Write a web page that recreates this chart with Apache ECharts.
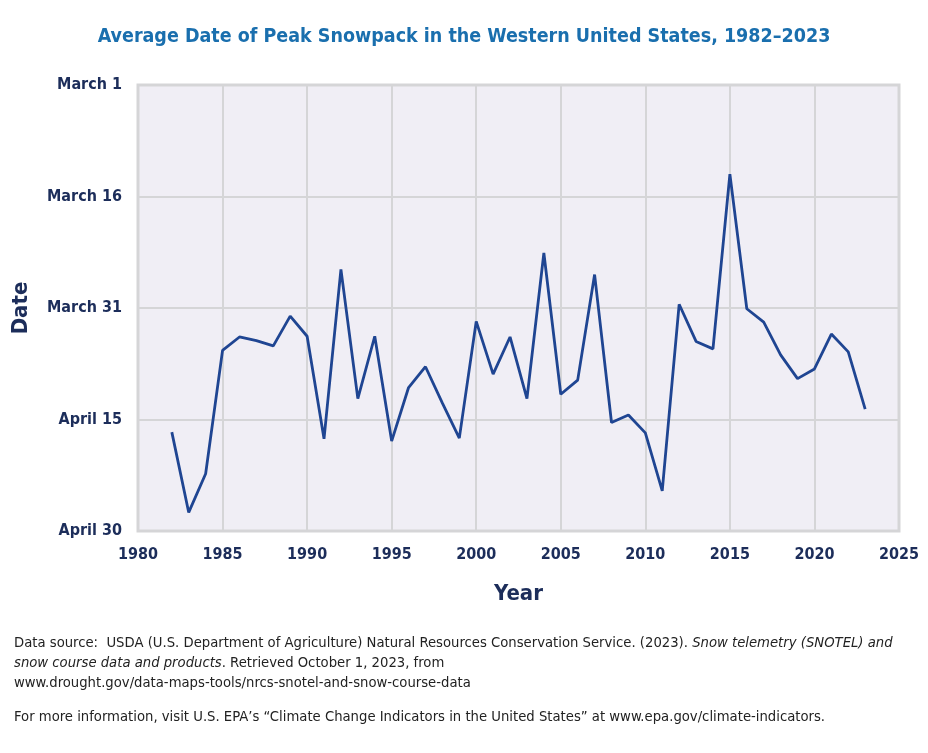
<!DOCTYPE html>
<html>
<head>
<meta charset="utf-8">
<script src="https://cdn.jsdelivr.net/npm/echarts@6/dist/echarts.min.js"></script>
<style>
  html, body { margin: 0; padding: 0; background: #fff; }
  #chart { width: 928px; height: 753px; }
</style>
</head>
<body>
<div id="chart"></div>
<script>
// years and peak date, as days after March 1
const years = [1982, 1983, 1984, 1985, 1986, 1987, 1988, 1989, 1990, 1991, 1992, 1993, 1994,
  1995, 1996, 1997, 1998, 1999, 2000, 2001, 2002, 2003, 2004, 2005, 2006, 2007, 2008, 2009,
  2010, 2011, 2012, 2013, 2014, 2015, 2016, 2017, 2018, 2019, 2020, 2021, 2022, 2023];
const peakDay = [46.7, 57.5, 52.3, 35.7, 33.9, 34.4, 35.1, 31.1, 33.8, 47.6, 24.8, 42.2, 33.8,
  47.9, 40.7, 37.9, 42.8, 47.5, 31.8, 38.9, 33.9, 42.2, 22.6, 41.6, 39.7, 25.5, 45.4, 44.4,
  46.8, 54.6, 29.5, 34.5, 35.5, 12.0, 30.1, 31.9, 36.3, 39.5, 38.2, 33.5, 35.9, 43.6];
const dateLabels = ['March 1', 'March 16', 'March 31', 'April 15', 'April 30'];

const navy = '#1c2d5a';
const font = '"DejaVu Sans Condensed", Roboto, sans-serif';
const chart = echarts.init(document.getElementById('chart'));

const option = {
  backgroundColor: '#fff',
  textStyle: { fontFamily: font },
  title: {
    text: 'Average Date of Peak Snowpack in the Western United States, 1982\u20132023',
    left: 'center',
    top: 22,
    textStyle: {
      color: '#1a6fae',
      fontSize: 19.5,
      fontWeight: 'bold',
      fontFamily: font
    }
  },
  grid: {
    left: 138, right: 29, top: 85, bottom: 222,
    show: true,
    backgroundColor: '#f0eef5',
    borderColor: '#d5d5d7',
    borderWidth: 3
  },
  xAxis: {
    type: 'value',
    min: 1980, max: 2025, interval: 5,
    name: 'Year',
    nameLocation: 'middle',
    nameGap: 52,
    nameTextStyle: { color: navy, fontSize: 22, fontWeight: 'bold', fontFamily: font },
    axisLine: { show: false },
    axisTick: { show: false },
    axisLabel: {
      color: navy, fontSize: 16, fontWeight: 'bold', margin: 16, fontFamily: font,
      formatter: function (v) { return String(v); }
    },
    splitLine: { lineStyle: { color: '#d5d5d7', width: 2 } }
  },
  yAxis: {
    type: 'value',
    inverse: true,
    min: 0, max: 60, interval: 15,
    name: 'Date',
    nameLocation: 'middle',
    nameGap: 106,
    nameRotate: 90,
    nameTextStyle: { color: navy, fontSize: 22, fontWeight: 'bold', fontFamily: font },
    axisLine: { show: false },
    axisTick: { show: false },
    axisLabel: {
      color: navy, fontSize: 16, fontWeight: 'bold', margin: 16, fontFamily: font,
      formatter: function (v) { return dateLabels[v / 15]; }
    },
    splitLine: { lineStyle: { color: '#d5d5d7', width: 2 } }
  },
  series: [{
    type: 'line',
    data: years.map((y, i) => [y, peakDay[i]]),
    symbol: 'none',
    lineStyle: { color: '#1f4592', width: 2.8 },
    z: 5
  }],
  graphic: [
    {
      type: 'text', left: 14, top: 633,
      style: {
        text: 'Data source:  USDA (U.S. Department of Agriculture) Natural Resources Conservation Service. (2023). {i|Snow telemetry (SNOTEL) and}\n{i|snow course data and products}. Retrieved October 1, 2023, from\nwww.drought.gov/data-maps-tools/nrcs-snotel-and-snow-course-data',
        fill: '#222', fontSize: 14.7, lineHeight: 20, fontFamily: font,
        rich: { i: { fontStyle: 'italic', fontSize: 14.7, fontFamily: font, fill: '#222' } }
      }
    },
    {
      type: 'text', left: 14, top: 710,
      style: {
        text: 'For more information, visit U.S. EPA\u2019s \u201cClimate Change Indicators in the United States\u201d at www.epa.gov/climate-indicators.',
        fill: '#222', fontSize: 14.7, fontFamily: font
      }
    }
  ]
};

chart.setOption(option);
</script>
</body>
</html>
